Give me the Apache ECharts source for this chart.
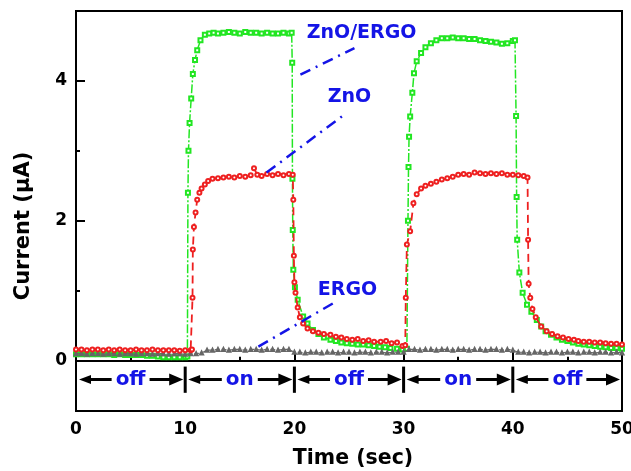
<!DOCTYPE html>
<html>
<head>
<meta charset="utf-8">
<script src="https://cdn.jsdelivr.net/npm/echarts@6/dist/echarts.min.js"></script>
<style>
  html, body { margin: 0; padding: 0; background: #fff; }
  #chart { width: 631px; height: 471px; }
</style>
</head>
<body>
<div id="chart"></div>
<script>
// Photocurrent response (µA) vs time (s) under on/off illumination cycles

// ZnO/ERGO sample: [time, current]
const znoErgo = [
  [0,0.09],[0.5,0.09],[1,0.09],[1.5,0.09],[2,0.09],[2.5,0.09],[3,0.09],[3.5,0.08],[4,0.09],[4.5,0.08],
  [5,0.08],[5.5,0.08],[6,0.08],[6.5,0.07],[7,0.07],[7.5,0.06],[8,0.05],[8.5,0.05],[9,0.05],[9.5,0.05],
  [10,0.05],[10.2,0.06],
  [10.25,2.4],[10.3,3.0],[10.4,3.4],[10.55,3.75],[10.7,4.1],[10.9,4.3],[11.1,4.44],[11.4,4.58],[11.8,4.66],
  [12.2,4.68],[12.6,4.69],[13,4.68],[13.5,4.69],[14,4.7],[14.5,4.69],[15,4.68],[15.5,4.7],[16,4.69],
  [16.5,4.69],[17,4.68],[17.5,4.69],[18,4.68],[18.5,4.68],[19,4.69],[19.5,4.68],[19.75,4.69],
  [19.8,4.26],[19.82,2.6],[19.85,1.87],[19.9,1.3],[20.05,1.05],[20.3,0.87],[20.8,0.63],[21.2,0.53],
  [21.7,0.44],[22.2,0.38],[22.7,0.33],[23.3,0.3],[23.8,0.28],[24.3,0.26],[24.8,0.25],[25.3,0.24],
  [25.8,0.23],[26.3,0.23],[26.8,0.22],[27.3,0.21],[27.8,0.2],[28.3,0.19],[28.8,0.18],[29.4,0.17],
  [29.9,0.16],[30.3,0.17],
  [30.4,2.0],[30.45,2.77],[30.5,3.2],[30.6,3.49],[30.8,3.83],[30.95,4.11],[31.2,4.28],[31.6,4.4],
  [32,4.48],[32.5,4.54],[33,4.58],[33.5,4.61],[34,4.61],[34.5,4.62],[35,4.61],[35.5,4.61],[36,4.6],
  [36.5,4.6],[37,4.58],[37.5,4.57],[38,4.56],[38.5,4.55],[39,4.53],[39.5,4.54],[40,4.57],[40.2,4.58],
  [40.3,3.5],[40.35,2.34],[40.4,1.73],[40.6,1.26],[40.9,0.97],[41.3,0.8],[41.7,0.7],[42.2,0.58],
  [42.6,0.49],[43,0.42],[43.5,0.37],[44,0.33],[44.5,0.3],[45,0.28],[45.5,0.26],[46,0.24],[46.5,0.23],
  [47,0.22],[47.5,0.21],[48,0.2],[48.5,0.19],[49,0.18],[49.5,0.18],[50,0.17]
];

// ZnO sample: [time, current]
const zno = [
  [0,0.16],[0.5,0.16],[1,0.15],[1.5,0.16],[2,0.16],[2.5,0.15],[3,0.16],[3.5,0.15],[4,0.16],[4.5,0.15],
  [5,0.15],[5.5,0.16],[6,0.15],[6.5,0.15],[7,0.16],[7.5,0.15],[8,0.15],[8.5,0.15],[9,0.15],[9.5,0.14],
  [10,0.15],[10.5,0.15],[10.62,0.16],
  [10.67,0.9],[10.7,1.59],[10.8,1.91],[10.95,2.12],[11.1,2.3],[11.3,2.4],[11.5,2.46],[11.8,2.52],
  [12.1,2.57],[12.5,2.6],[13,2.61],[13.5,2.62],[14,2.63],[14.5,2.62],[15,2.64],[15.5,2.63],[16,2.65],
  [16.3,2.75],[16.6,2.66],[17,2.64],[17.5,2.67],[18,2.65],[18.5,2.67],[19,2.65],[19.5,2.67],[19.85,2.66],
  [19.9,2.3],[19.95,1.5],[20,1.12],[20.1,0.97],[20.3,0.76],[20.5,0.62],[20.8,0.53],[21.2,0.46],
  [21.7,0.42],[22.2,0.4],[22.7,0.38],[23.3,0.37],[23.8,0.34],[24.3,0.33],[24.8,0.31],[25.3,0.3],
  [25.8,0.31],[26.3,0.28],[26.8,0.29],[27.3,0.27],[27.9,0.27],[28.4,0.28],[28.9,0.25],[29.4,0.26],
  [29.9,0.21],[30.15,0.22],
  [30.2,0.9],[30.3,1.66],[30.6,1.85],[30.9,2.25],[31.2,2.38],[31.6,2.46],[32,2.5],[32.5,2.53],
  [33,2.56],[33.5,2.59],[34,2.61],[34.5,2.63],[35,2.66],[35.5,2.67],[36,2.66],[36.5,2.69],[37,2.68],
  [37.5,2.67],[38,2.68],[38.5,2.67],[39,2.68],[39.5,2.66],[40,2.66],[40.5,2.65],[41,2.64],[41.35,2.62],
  [41.4,1.73],[41.45,1.1],[41.6,0.9],[41.8,0.74],[42.1,0.62],[42.6,0.49],[43.1,0.42],[43.6,0.38],
  [44.1,0.35],[44.6,0.33],[45.1,0.31],[45.6,0.3],[46,0.28],[46.5,0.27],[47,0.27],[47.5,0.26],
  [48,0.26],[48.5,0.25],[49,0.24],[49.5,0.24],[50,0.23]
];

// ERGO sample: [time, current]
const ergo = [
  [0,0.1],[0.5,0.1],[1,0.09],[1.5,0.1],[2,0.1],[2.5,0.09],[3,0.1],[3.5,0.1],[4,0.09],[4.5,0.1],
  [5,0.1],[5.5,0.09],[6,0.1],[6.5,0.1],[7,0.09],[7.5,0.1],[8,0.1],[8.5,0.09],[9,0.1],[9.5,0.1],
  [10,0.09],[10.5,0.1],[11,0.1],[11.5,0.11],[12,0.15],[12.5,0.15],[13,0.16],[13.5,0.16],[14,0.15],
  [14.5,0.16],[15,0.16],[15.5,0.15],[16,0.16],[16.5,0.16],[17,0.15],[17.5,0.16],[18,0.16],[18.5,0.15],
  [19,0.16],[19.5,0.16],[20,0.12],[20.5,0.12],[21,0.11],[21.5,0.12],[22,0.12],[22.5,0.11],[23,0.12],
  [23.5,0.12],[24,0.11],[24.5,0.12],[25,0.12],[25.5,0.11],[26,0.12],[26.5,0.12],[27,0.11],[27.5,0.12],
  [28,0.12],[28.5,0.11],[29,0.12],[29.5,0.12],[30,0.12],[30.5,0.16],[31,0.16],[31.5,0.15],[32,0.16],
  [32.5,0.16],[33,0.15],[33.5,0.16],[34,0.16],[34.5,0.15],[35,0.16],[35.5,0.16],[36,0.15],[36.5,0.16],
  [37,0.16],[37.5,0.15],[38,0.16],[38.5,0.16],[39,0.15],[39.5,0.16],[40,0.15],[40.5,0.12],[41,0.12],
  [41.5,0.11],[42,0.12],[42.5,0.12],[43,0.11],[43.5,0.12],[44,0.12],[44.5,0.11],[45,0.12],[45.5,0.12],
  [46,0.11],[46.5,0.12],[47,0.12],[47.5,0.11],[48,0.12],[48.5,0.12],[49,0.11],[49.5,0.12],[50,0.11]
];

// Illumination phases: [start, end] and their labels
const phaseSpans = [[0,10],[10,20],[20,30],[30,40],[40,50]];
const phaseLabels = ['off','on','off','on','off'];

// Sample labels with leader lines: [x1, y1, x2, y2, labelX, labelY]
const noteGeometry = [
  [20.55, 4.09, 25.5, 4.47, 26.15, 4.69],
  [17.45, 2.69, 24.5, 3.51, 25.05, 3.77],
  [16.7, 0.2, 23.76, 0.84, 24.86, 1.01]
];
const noteLabels = ['ZnO/ERGO','ZnO','ERGO'];

// Tick values
const xTicks = { min: 0, max: 50, step: 10 };
const yMajorTicks = [0, 2, 4];
const yMinorTicks = [1, 3];

const Y_MIN = -0.72, Y_MAX = 5.0;
const PHASE_ROW = -0.27;           // level of the on/off arrows
const PHASE_SEP = [-0.085, -0.46]; // extent of the phase separators

const FONT = '"DejaVu Sans", "Liberation Sans", Arial, sans-serif';
const BLUE = '#1414e6';

const chart = echarts.init(document.getElementById('chart'), null, { renderer: 'canvas' });

function renderPhase(params, api) {
  const a = api.coord([api.value(0), PHASE_ROW]);
  const b = api.coord([api.value(1), PHASE_ROW]);
  const y = a[1];
  const xa = a[0], xb = b[0];
  const mid = (xa + xb) / 2;
  const children = [
    { type: 'line', shape: { x1: xa + 12, y1: y, x2: xb - 14, y2: y },
      style: { stroke: '#000', lineWidth: 3 } },
    { type: 'polygon', shape: { points: [[xa + 3, y], [xa + 15, y - 4.5], [xa + 15, y + 4.5]] },
      style: { fill: '#000' } },
    { type: 'polygon', shape: { points: [[xb - 2, y], [xb - 16, y - 6], [xb - 16, y + 6]] },
      style: { fill: '#000' } },
    { type: 'text', x: mid, y: y,
      style: { text: phaseLabels[params.dataIndex], fill: BLUE,
        font: 'bold 20px ' + FONT, align: 'center', verticalAlign: 'middle',
        backgroundColor: '#fff', padding: [0, 4] } }
  ];
  if (api.value(0) > xTicks.min) {
    const s1 = api.coord([api.value(0), PHASE_SEP[0]]);
    const s2 = api.coord([api.value(0), PHASE_SEP[1]]);
    children.push({ type: 'line', shape: { x1: s1[0], y1: s1[1], x2: s2[0], y2: s2[1] },
      style: { stroke: '#000', lineWidth: 3 } });
  }
  return { type: 'group', children: children };
}

function renderNote(params, api) {
  const p1 = api.coord([api.value(0), api.value(1)]);
  const p2 = api.coord([api.value(2), api.value(3)]);
  const pt = api.coord([api.value(4), api.value(5)]);
  return {
    type: 'group',
    children: [
      { type: 'line', shape: { x1: p1[0], y1: p1[1], x2: p2[0], y2: p2[1] },
        style: { stroke: BLUE, lineWidth: 2.5, lineDash: [11, 6, 2, 6] } },
      { type: 'text', x: pt[0], y: pt[1],
        style: { text: noteLabels[params.dataIndex], fill: BLUE,
          font: 'bold 19px ' + FONT, align: 'center', verticalAlign: 'middle' } }
    ]
  };
}

const option = {
  backgroundColor: '#fff',
  animation: false,
  grid: { left: 76, right: 9, top: 11, bottom: 60, show: true, outerBoundsMode: 'none',
    containLabel: false, borderColor: '#000', borderWidth: 2, backgroundColor: 'transparent' },
  xAxis: {
    type: 'value', min: xTicks.min, max: xTicks.max, interval: xTicks.step,
    name: 'Time (sec)', nameLocation: 'middle', nameGap: 37,
    nameTextStyle: { fontFamily: FONT, fontWeight: 'bold', fontSize: 20.5, color: '#000',
      padding: [0, 0, 0, 8] },
    axisLine: { show: true, lineStyle: { color: '#000', width: 2 } },
    axisTick: { show: true, inside: true, length: 9, lineStyle: { color: '#000', width: 2 } },
    minorTick: { show: true, splitNumber: 2, length: 4, lineStyle: { color: '#000', width: 2 } },
    axisLabel: { fontFamily: FONT, fontWeight: 'bold', fontSize: 17, color: '#000', margin: 10 },
    splitLine: { show: false }
  },
  yAxis: [
    {
      type: 'value', min: Y_MIN, max: Y_MAX,
      name: 'Current (\u03bcA)', nameLocation: 'middle', nameGap: 42,
      nameTextStyle: { fontFamily: FONT, fontWeight: 'bold', fontSize: 21, color: '#000',
        padding: [0, 30, 0, 0] },
      axisLine: { show: true, lineStyle: { color: '#000', width: 2 } },
      axisTick: { show: true, inside: true, length: 9, customValues: yMajorTicks,
        lineStyle: { color: '#000', width: 2 } },
      axisLabel: { fontFamily: FONT, fontWeight: 'bold', fontSize: 17, color: '#000', margin: 9,
        customValues: yMajorTicks },
      splitLine: { show: false }
    },
    {
      type: 'value', min: Y_MIN, max: Y_MAX, position: 'left',
      axisLine: { show: false },
      axisTick: { show: true, inside: true, length: 4, customValues: yMinorTicks,
        lineStyle: { color: '#000', width: 2 } },
      axisLabel: { show: false, customValues: yMinorTicks },
      splitLine: { show: false }
    }
  ],
  series: [
    {
      name: 'ZnO/ERGO', type: 'line', data: znoErgo, z: 3,
      symbol: 'emptyRect', symbolSize: 4,
      lineStyle: { color: '#22e622', width: 1.5, type: [9, 2, 2, 2] },
      itemStyle: { color: '#22e622', borderWidth: 0.8 }
    },
    {
      name: 'ERGO', type: 'line', data: ergo, z: 4,
      symbol: 'emptyTriangle', symbolSize: 3,
      lineStyle: { color: '#666', width: 1.2, type: [5, 2] },
      itemStyle: { color: '#666', borderWidth: 0.8 }
    },
    {
      name: 'ZnO', type: 'line', data: zno, z: 5,
      symbol: 'emptyCircle', symbolSize: 4,
      lineStyle: { color: '#ee2020', width: 1.8, type: [8, 5] },
      itemStyle: { color: '#ee2020', borderWidth: 0.8 }
    },
    {
      type: 'custom', data: phaseSpans, renderItem: renderPhase, clip: false, z: 6,
      encode: { x: [0, 1] }
    },
    {
      type: 'custom', data: noteGeometry, renderItem: renderNote, clip: false, z: 6,
      encode: { x: [0, 2, 4], y: [1, 3, 5] }
    }
  ]
};

chart.setOption(option);
</script>
</body>
</html>
